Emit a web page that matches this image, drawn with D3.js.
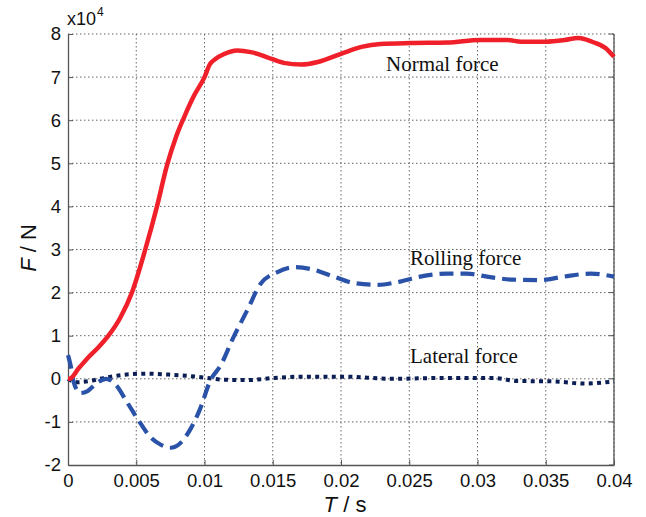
<!DOCTYPE html>
<html><head><meta charset="utf-8">
<script src="https://cdn.jsdelivr.net/npm/d3@7"></script>
<style>body{margin:0;background:#fff}svg{display:block}</style>
</head><body>
<script>
const xTicks = [0,0.005,0.01,0.015,0.02,0.025,0.03,0.035,0.04];
const xTickLabels = ["0","0.005","0.01","0.015","0.02","0.025","0.03","0.035","0.04"];
const yTicks = [-2,-1,0,1,2,3,4,5,6,7,8];

const normalT = [0,0.0001,0.0008,0.0015,0.0022,0.00296,0.0038,0.00468,0.00566,0.00652,0.00725,0.0079,0.00848,0.0092,0.01,0.0104,0.0108,0.0114,0.0124,0.0134,0.0146,0.0158,0.0171,0.0183,0.02,0.0215,0.0229,0.0251,0.0278,0.0302,0.0322,0.0332,0.0349,0.0364,0.0374,0.0384,0.0394,0.04];
const normalV = [0,0,0.25,0.5,0.72,1.0,1.4,2.0,3.0,4.0,4.95,5.6,6.05,6.55,7.0,7.3,7.42,7.53,7.62,7.58,7.46,7.33,7.29,7.35,7.54,7.7,7.77,7.79,7.8,7.86,7.86,7.82,7.82,7.86,7.91,7.82,7.67,7.47];

const rollingT = [0,0.0002,0.0004,0.0009,0.0014,0.0021,0.0028,0.0035,0.0043,0.0053,0.006,0.0068,0.0075,0.0082,0.009,0.0097,0.0104,0.0112,0.0121,0.0131,0.0141,0.0153,0.0166,0.018,0.0193,0.021,0.0227,0.0241,0.0258,0.0278,0.0292,0.0307,0.0326,0.0346,0.0363,0.0383,0.04];
const rollingV = [0.55,0.3,-0.06,-0.33,-0.29,-0.1,0,-0.14,-0.53,-1.03,-1.34,-1.53,-1.6,-1.5,-1.15,-0.68,-0.06,0.32,0.95,1.57,2.2,2.47,2.59,2.53,2.39,2.22,2.18,2.24,2.37,2.44,2.44,2.37,2.3,2.29,2.37,2.44,2.37];

const lateralT = [0,0.0006,0.0016,0.0028,0.0043,0.0058,0.0072,0.0087,0.0099,0.0114,0.0131,0.0151,0.017,0.0201,0.0238,0.0275,0.0312,0.0329,0.0356,0.0378,0.04];
const lateralV = [0,-0.08,-0.05,0.03,0.1,0.12,0.1,0.07,0.03,-0.02,-0.03,0.02,0.05,0.05,0.0,0.02,0.02,-0.05,-0.06,-0.11,-0.06];

const W = 646, H = 517;
const m = {left:68, right:614, top:34, bottom:465};
const sans = "Liberation Sans, Arial, sans-serif";
const serif = "Liberation Serif, Times New Roman, serif";
const svg = d3.select("body").append("svg").attr("width",W).attr("height",H);
const x = d3.scaleLinear().domain([0,0.04]).range([m.left,m.right]);
const y = d3.scaleLinear().domain([-2,8]).range([m.bottom,m.top]);

// grid
const g = svg.append("g");
xTicks.slice(1).forEach(t=>{
  g.append("line").attr("x1",x(t)).attr("x2",x(t)).attr("y1",m.top).attr("y2",m.bottom)
   .attr("stroke","#666").attr("stroke-width",1).attr("stroke-dasharray","1.5,2.5");
});
yTicks.slice(1).forEach(t=>{
  g.append("line").attr("x1",m.left).attr("x2",m.right).attr("y1",y(t)).attr("y2",y(t))
   .attr("stroke","#666").attr("stroke-width",1).attr("stroke-dasharray","1.5,2.5");
});

// axes
const xAxis = d3.axisBottom(x).tickValues(xTicks).tickFormat((d,i)=>xTickLabels[i]).tickSizeInner(-5).tickSizeOuter(0).tickPadding(9);
const yAxis = d3.axisLeft(y).tickValues(yTicks).tickFormat(d=>String(d)).tickSizeInner(-5).tickSizeOuter(0).tickPadding(7);
const xa = svg.append("g").attr("transform",`translate(0,${m.bottom})`).call(xAxis);
const ya = svg.append("g").attr("transform",`translate(${m.left},0)`).call(yAxis);
[xa,ya].forEach(a=>{
  a.select(".domain").attr("stroke","#555").attr("stroke-width",1.3);
  a.selectAll(".tick line").attr("stroke","#555");
  a.selectAll("text").attr("font-family",sans).attr("font-size",18.5).attr("fill","#111");
});
// right border
svg.append("line").attr("x1",m.right).attr("x2",m.right).attr("y1",m.top).attr("y2",m.bottom).attr("stroke","#555").attr("stroke-width",1.3);
yTicks.forEach(t=>{
  svg.append("line").attr("x1",m.right-5).attr("x2",m.right).attr("y1",y(t)).attr("y2",y(t)).attr("stroke","#555");
});

// lines
const line = d3.line().x(d=>x(d[0])).y(d=>y(d[1])).curve(d3.curveMonotoneX);
const zip = (a,b)=>a.map((v,i)=>[v,b[i]]);
const plot = svg.append("g");
plot.append("path").datum(zip(lateralT,lateralV)).attr("d",line).attr("fill","none")
  .attr("stroke","#0c1f55").attr("stroke-width",4).attr("stroke-dasharray","4,4.3");
plot.append("path").datum(zip(rollingT,rollingV)).attr("d",line).attr("fill","none")
  .attr("stroke","#2a52a8").attr("stroke-width",4.2).attr("stroke-dasharray","14,7");
plot.append("path").datum(zip(normalT,normalV)).attr("d",line).attr("fill","none")
  .attr("stroke","#f0202a").attr("stroke-width",4.5).attr("stroke-linejoin","round");

// annotations
svg.append("text").attr("x",386).attr("y",71).attr("font-family",serif).attr("font-size",21).attr("fill","#111").text("Normal force");
svg.append("text").attr("x",410).attr("y",265).attr("font-family",serif).attr("font-size",21).attr("fill","#111").text("Rolling force");
svg.append("text").attr("x",410).attr("y",363).attr("font-family",serif).attr("font-size",21).attr("fill","#111").text("Lateral force");

// exponent
const ex = svg.append("text").attr("x",67).attr("y",25).attr("font-family",sans).attr("font-size",18).attr("fill","#111");
ex.append("tspan").text("x10");
ex.append("tspan").attr("font-size",12).attr("dy",-9).attr("dx",1).text("4");

// axis titles
const xt = svg.append("text").attr("x",345).attr("y",512).attr("text-anchor","middle").attr("font-family",sans).attr("font-size",22).attr("fill","#111");
xt.append("tspan").attr("font-style","italic").text("T");
xt.append("tspan").text(" / s");
const yt = svg.append("text").attr("transform","translate(36,248) rotate(-90)").attr("text-anchor","middle").attr("font-family",sans).attr("font-size",22).attr("fill","#111");
yt.append("tspan").attr("font-style","italic").text("F");
yt.append("tspan").text(" / N");
</script>
</body></html>
